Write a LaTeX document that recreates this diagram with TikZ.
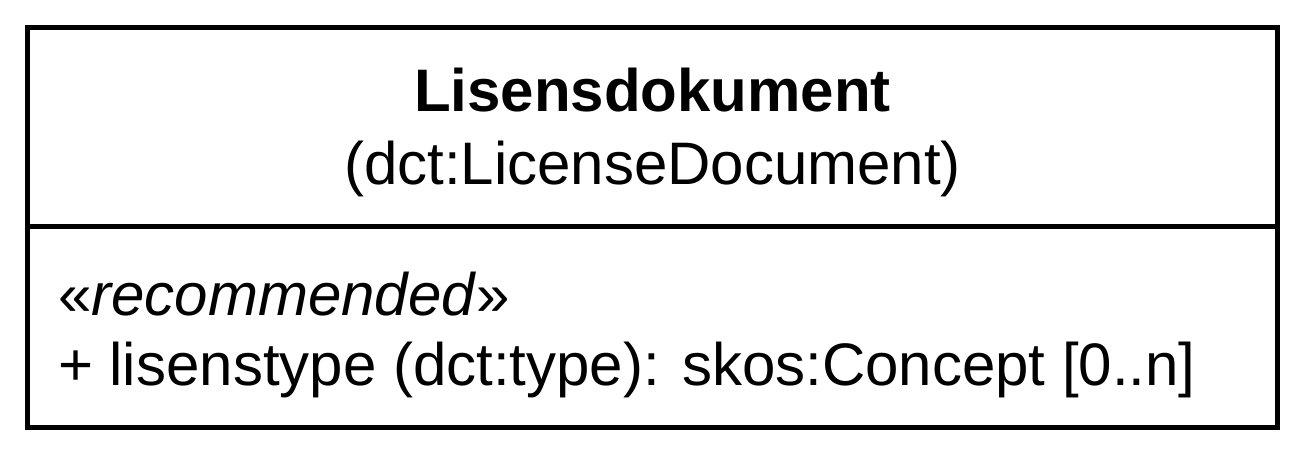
\documentclass[tikz,border=0pt]{standalone}
\usepackage{fontspec}
\setmainfont{Liberation Sans}
\begin{document}
\begin{tikzpicture}[x=1pt,y=-1pt,
  classbox/.style={draw=black,line width=5pt,minimum width=1250pt,minimum height=400pt,inner sep=0pt,outer sep=0pt},
  txt/.style={inner sep=0pt,outer sep=0pt,font=\fontsize{60}{72}\selectfont}]
\useasboundingbox (0,0) rectangle (1305,470);
\node[classbox] (cls) at (652.5,227.5) {};
\coordinate (dl) at (27.5,227);
\coordinate (dr) at (1277.5,227);
\draw[line width=5pt] (dl) -- (dr);
\node[txt,anchor=base] (title) at (652.5,112) {\bfseries Lisensdokument};
\node[txt,anchor=base] (uri) at (652.5,185) {(dct:LicenseDocument)};
\node[txt,anchor=base west] (stereo) at (58,315) {«\textit{recommended}»};
\node[txt,anchor=base west] (attr) at (58,385) {+ lisenstype (dct:type): skos:Concept [0..n]};
\end{tikzpicture}
\end{document}
